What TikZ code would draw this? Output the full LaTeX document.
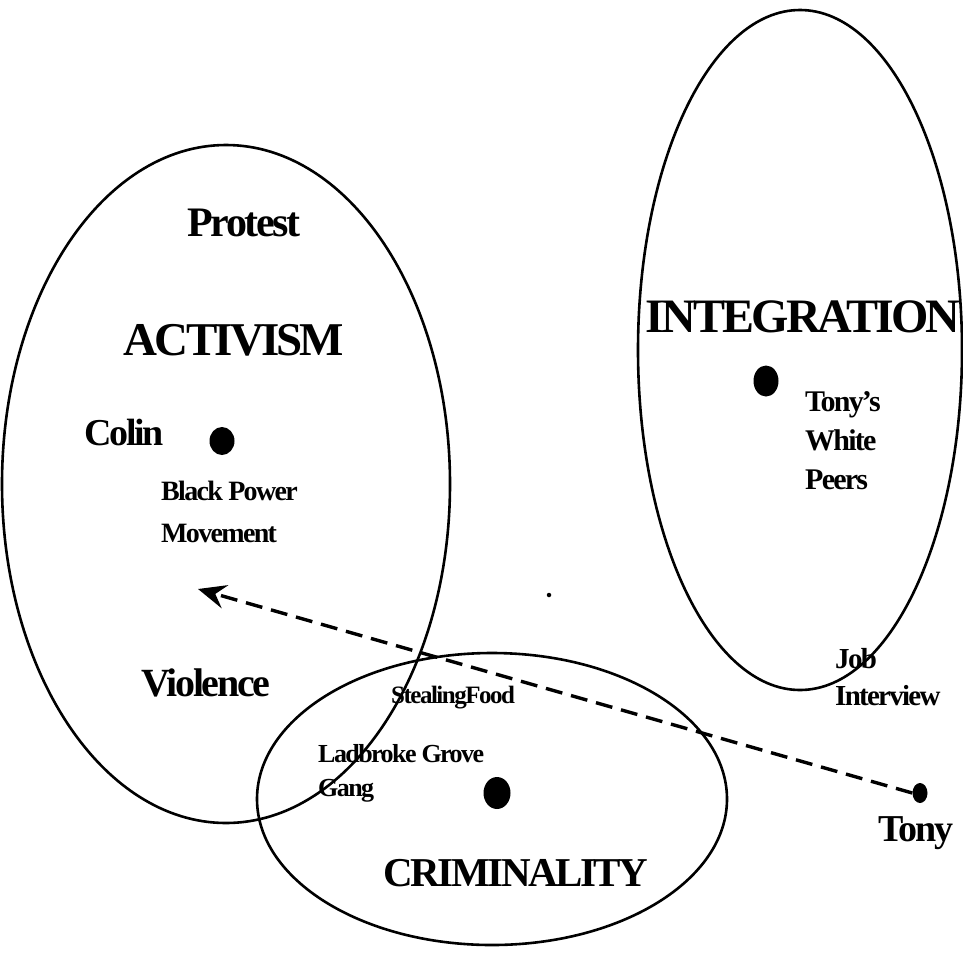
\documentclass[tikz,border=0pt]{standalone}
\usepackage{fontspec}
\setmainfont{Liberation Serif}[LetterSpace=-6]
\usetikzlibrary{shapes.geometric,arrows.meta}

\tikzset{
  zone/.style={draw, ellipse, line width=2.6pt, inner sep=0pt},
  spot/.style={fill, ellipse, inner sep=0pt},
  word/.style={font=\bfseries\fontsize{#1}{#1}\selectfont\setlength\baselineskip{1.3em}, inner sep=0pt},
  word/.default=28,
  side/.style={word=#1, align=left, anchor=west},
  side/.default=28,
}

\begin{document}
\begin{tikzpicture}[x=1pt,y=-1pt]
  \useasboundingbox (0,0) rectangle (963,954);

  % the three regions
  \node[zone, minimum width=448pt, minimum height=678pt] (activism) at (226,484) {};
  \node[zone, minimum width=324pt, minimum height=680pt] (integration) at (800,350) {};
  \node[zone, minimum width=470pt, minimum height=292pt] (criminality) at (492,799) {};

  % positions of people and groups
  \node[spot, minimum width=25pt, minimum height=28pt] (colin) at (222,441) {};
  \node[spot, minimum width=25pt, minimum height=31pt] (peers) at (766,381) {};
  \node[spot, minimum width=27pt, minimum height=32pt] (gang) at (497,793) {};
  \node[spot, minimum width=15pt, minimum height=20pt] (tony) at (920,793) {};
  \node[spot, minimum size=4.5pt] (speck) at (549,595) {};

  % region titles
  \node[word=47] (tActivism) at (234,340) {ACTIVISM};
  \node[word=48] (tIntegration) at (803,317) {INTEGRATION};
  \node[word=41] (tCriminality) at (516,873) {CRIMINALITY};
  \node[word=42] (tProtest) at (244,223) {Protest};
  \node[word=40] (tViolence) at (206,683) {Violence};

  % names and labels
  \node[word=38] (tColin) at (124,432) {Colin};
  \node[word=38] (tTony) at (916,833) {Tony};
  \node[side=28] (tBlack) at (161,512) {Black Power\\[6pt]Movement};
  \node[side=30] (tPeers) at (805,441) {Tony's\\White\\Peers};
  \node[side=29] (tJob) at (835,677) {Job\\Interview};
  \node[side=25] (tFood) at (391,698) {StealingFood};
  \node[side=26] (tLadbroke) at (318,773) {Ladbroke Grove\\Gang};

  % Tony's move towards activism
  \coordinate (aim) at (198,589);
  \draw[line width=3.4pt, dash pattern=on 17pt off 9pt,
        -{Stealth[length=28pt, width=24pt, inset=10pt]}] (tony.west) -- (aim);
\end{tikzpicture}
\end{document}
